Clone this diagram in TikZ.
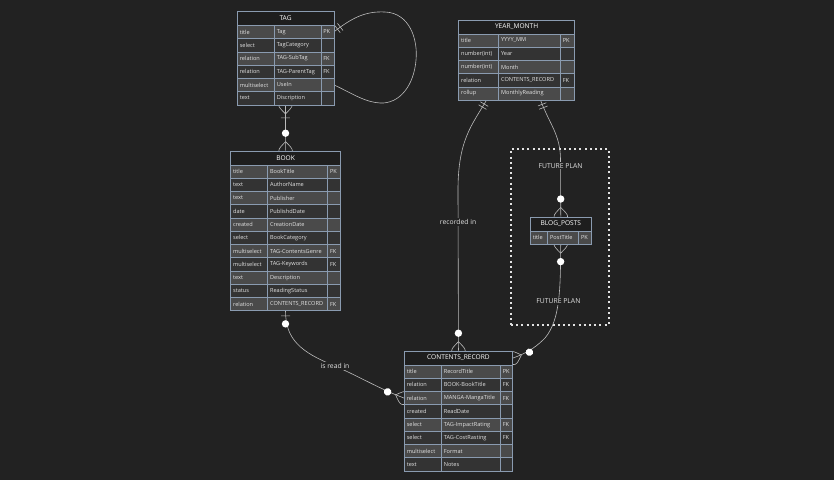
\documentclass[tikz,border=0pt]{standalone}
\usepackage{fontspec}
\setmainfont{Open Sans}
\usetikzlibrary{decorations.markings}

\definecolor{bgcol}{HTML}{222222}
\definecolor{headcol}{HTML}{1E1E1E}
\definecolor{rowodd}{HTML}{4A4A4A}
\definecolor{roweven}{HTML}{333333}
\definecolor{bordercol}{HTML}{8A9BB0}
\definecolor{linecol}{HTML}{BBBBBB}
\definecolor{txtcol}{HTML}{E2E2E2}

\pgfdeclarelayer{background}
\pgfsetlayers{background,main}

\tikzset{
  erhead/.style={draw=bordercol, fill=headcol, line width=0.6pt, inner sep=0pt,
    minimum height=14pt, text=white, font=\fontsize{6.6}{7}\selectfont},
  ercell/.style={draw=bordercol, line width=0.6pt, inner xsep=2.5pt, inner ysep=0pt,
    minimum height=13.25pt, align=left, text=txtcol, font=\fontsize{5.6}{6.5}\selectfont},
  erline/.style={draw=linecol, line width=0.6pt},
  erlabel/.style={fill=bgcol, text=txtcol, inner sep=1.2pt, font=\fontsize{6.8}{7.5}\selectfont},
  planbox/.style={draw=txtcol, line width=1.3pt, dash pattern=on 2pt off 3.2pt},
  exactone/.pic={\draw[erline] (4.5,-4.5) -- (4.5,4.5) (8,-4.5) -- (8,4.5);},
  zeroone/.pic={\draw[erline] (5,-4.5) -- (5,4.5); \fill[white] (13,0) circle (3.7pt);},
  onemany/.pic={\draw[erline] (-9,0) .. controls (0,9) .. (9,0) .. controls (0,-9) .. (-9,0)
    (13,-4.5) -- (13,4.5);},
  zeromany/.pic={\draw[erline] (-9,0) .. controls (0,9) .. (9,0) .. controls (0,-9) .. (-9,0);
    \fill[white] (17.5,0) circle (3.7pt);},
  er/.style 2 args={postaction={decorate, decoration={markings,
    mark=at position 0 with {\pic[transform shape]{#1};},
    mark=at position 1 with {\pic[transform shape, rotate=180]{#2};}}}},
}

% entity table: id, left, top, three column widths, title, rows
\newcommand{\erentity}[8]{%
  \pgfmathsetmacro{\ew}{#4+#5+#6}%
  \pgfmathsetmacro{\twa}{#4-5}%
  \pgfmathsetmacro{\twb}{#5-5}%
  \pgfmathsetmacro{\twc}{#6-5}%
  \node[erhead, minimum width=\ew pt, anchor=north west] (#1) at (#2,#3) {#7};
  \foreach \ty/\nm/\ky [count=\i] in {#8} {
    \pgfmathsetmacro{\ey}{#3+14+(\i-1)*13.25}
    \ifodd\i \def\rf{rowodd}\else \def\rf{roweven}\fi
    \node[inner sep=0pt, minimum width=\ew pt, minimum height=13.25pt, anchor=north west] (#1-\i) at (#2,\ey) {};
    \node[ercell, fill=\rf, text width=\twa pt, anchor=north west] (#1-\i-a) at (#2,\ey) {\ty};
    \node[ercell, fill=\rf, text width=\twb pt, anchor=north west] (#1-\i-b) at (#2+#4,\ey) {\nm};
    \node[ercell, fill=\rf, text width=\twc pt, anchor=north west] (#1-\i-c) at (#2+#4+#5,\ey) {\ky};
  }
}

\begin{document}
\begin{tikzpicture}[x=1pt, y=-1pt]
  \useasboundingbox (0,0) rectangle (834,480);

  \erentity{tag}{237}{11}{37}{46.5}{13}{TAG}{
    title/Tag/PK, select/TagCategory/{}, relation/TAG-SubTag/FK,
    relation/TAG-ParentTag/FK, multiselect/UseIn/{}, text/Discription/{}}
  \erentity{book}{230.3}{150.7}{37}{60}{13}{BOOK}{
    title/BookTitle/PK, text/AuthorName/{}, text/Publisher/{}, date/PublishdDate/{},
    created/CreationDate/{}, select/BookCategory/{}, multiselect/TAG-ContentsGenre/FK,
    multiselect/TAG-Keywords/FK, text/Description/{}, status/ReadingStatus/{},
    relation/CONTENTS\_RECORD/FK}
  \erentity{ym}{458.3}{19.5}{40}{61.7}{14.3}{YEAR\_MONTH}{
    title/YYYY\_MM/PK, number(int)/Year/{}, number(int)/Month/{},
    relation/CONTENTS\_RECORD/FK, rollup/MonthlyReading/{}}
  \erentity{bp}{530}{216.5}{17.3}{31}{12.7}{BLOG\_POSTS}{
    title/PostTitle/PK}
  \erentity{cr}{404}{350.7}{37}{59}{12.3}{CONTENTS\_RECORD}{
    title/RecordTitle/PK, relation/BOOK-BookTitle/FK, relation/MANGA-MangaTitle/FK,
    created/ReadDate/{}, select/TAG-ImpactRating/FK, select/TAG-CostRasting/FK,
    multiselect/Format/{}, text/Notes/{}}

  \begin{pgfonlayer}{background}
    \fill[bgcol] (0,0) rectangle (834,480);
    \node[planbox, minimum width=98pt, minimum height=176pt] (plan) at (560,237) {};

    \begin{scope}[erline]
      \draw[er={exactone}{onemany}] (tag-1.east) .. controls (352,18) and (365,11) .. (385,12)
        .. controls (410,13) and (418,40) .. (416,60) .. controls (414,85) and (400,104) .. (380,103)
        .. controls (365,102) and (355,95) .. (tag-5.east);
      \draw[er={onemany}{zeromany}] (tag-6.south) -- (book.north);
      \draw[er={zeroone}{zeromany}] (book-11.south) .. controls +(0,28) and (300,352) .. (335,366)
        node[erlabel] {is read in} .. controls (360,377) and (380,389) .. (cr-3.west);
      \draw[er={exactone}{zeromany}] ([xshift=-30pt]ym-5.south) .. controls (472,125) and (458,140) .. (458,190)
        -- (cr.north) node[erlabel, pos=0.2] {recorded in};
      \draw[er={exactone}{zeromany}] ([xshift=24pt]ym-5.south) .. controls (550,125) and (560.5,135) .. (560.5,160)
        -- (bp.north) node[erlabel, pos=0.1] {FUTURE PLAN};
      \draw[er={zeromany}{zeromany}] (bp-1.south) .. controls (560.5,290) and (560,320) .. (545,338)
        node[erlabel, pos=0.5] {FUTURE PLAN} .. controls (538,345) and (530,352) .. (cr.east);
    \end{scope}
  \end{pgfonlayer}
\end{tikzpicture}
\end{document}
